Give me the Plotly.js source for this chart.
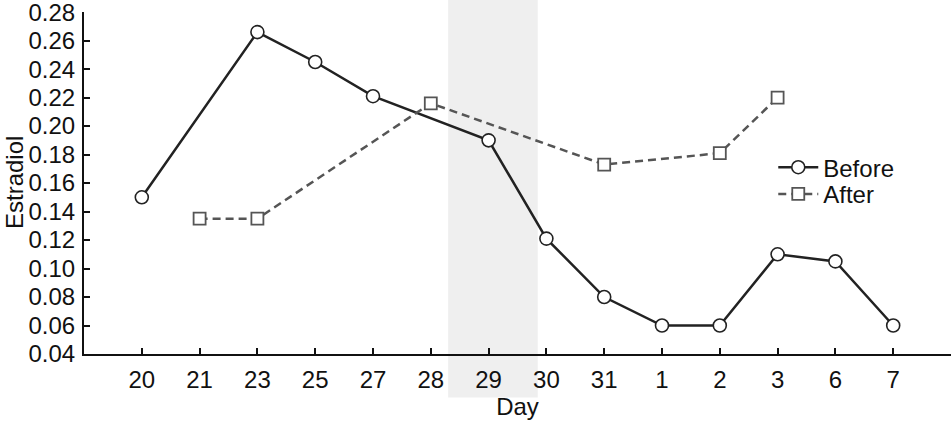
<!DOCTYPE html>
<html><head><meta charset="utf-8">
<script src="https://cdn.plot.ly/plotly-3.0.1.min.js"></script>
<style>html,body{margin:0;padding:0;background:#fff}#chart{width:952px;height:426px}</style>
</head><body><div id="chart"></div>
<script>
const days = ["20","21","23","25","27","28","29","30","31","1","2","3","6","7"];
const before = [0.150, null, 0.266, 0.245, 0.221, null, 0.190, 0.121, 0.080, 0.060, 0.060, 0.110, 0.105, 0.060];
const after = [null, 0.135, 0.135, null, null, 0.216, null, null, 0.173, null, 0.181, 0.220, null, null];
const yTicks = [0.04,0.06,0.08,0.10,0.12,0.14,0.16,0.18,0.20,0.22,0.24,0.26,0.28];
const yTickText = yTicks.map(v => v.toFixed(2));
const font = {family: "Liberation Sans", size: 24, color: "#111"};

const traces = [
  {x: days, y: before, name: "Before", mode: "lines+markers", connectgaps: true, legend: "legend",
   line: {color: "#222", width: 2.5},
   marker: {symbol: "circle", size: 13, color: "#fff", line: {color: "#222", width: 1.6}}},
  {x: days, y: after, name: "After", mode: "lines+markers", connectgaps: true, legend: "legend2",
   line: {color: "#555", width: 2.5, dash: "8px,5px"},
   marker: {symbol: "square", size: 12, color: "#fff", line: {color: "#555", width: 1.8}}}
];

const legendBase = {xanchor: "left", yanchor: "middle", bgcolor: "rgba(0,0,0,0)",
                    font: font, itemwidth: 40, borderwidth: 0};

const layout = {
  width: 952, height: 426,
  margin: {l: 84, r: 1, t: 12, b: 72},
  paper_bgcolor: "#fff", plot_bgcolor: "rgba(0,0,0,0)",
  font: font,
  showlegend: true,
  legend: Object.assign({x: 0.795, y: 0.545}, legendBase),
  legend2: Object.assign({x: 0.795, y: 0.467}, legendBase),
  xaxis: {type: "category", categoryorder: "array", categoryarray: days,
          range: [-1, 14], showline: true, linecolor: "#111", linewidth: 2,
          ticks: "inside", ticklen: 6, tickwidth: 2, tickcolor: "#111", tickfont: font,
          showgrid: false, zeroline: false, ticklabelstandoff: 3,
          title: {text: "Day", font: font, standoff: 6}},
  yaxis: {range: [0.04, 0.2801], tickvals: yTicks, ticktext: yTickText,
          showline: true, linecolor: "#111", linewidth: 2, ticklabeloverflow: "allow",
          ticks: "inside", ticklen: 6, tickwidth: 2, tickcolor: "#111", tickfont: font,
          showgrid: false, zeroline: false, ticklabelstandoff: 2},
  annotations: [{text: "Estradiol", xref: "paper", yref: "paper", x: 0, y: 0.5,
                 xshift: -70, textangle: -90, showarrow: false, font: font,
                 xanchor: "center", yanchor: "middle"}],
  shapes: [{type: "rect", xref: "x", yref: "paper", x0: 5.3, x1: 6.85, y0: -0.127, y1: 1.04,
            fillcolor: "#efefef", line: {width: 0}, layer: "below"}]
};
Plotly.newPlot("chart", traces, layout, {displayModeBar: false, staticPlot: true});
</script></body></html>
